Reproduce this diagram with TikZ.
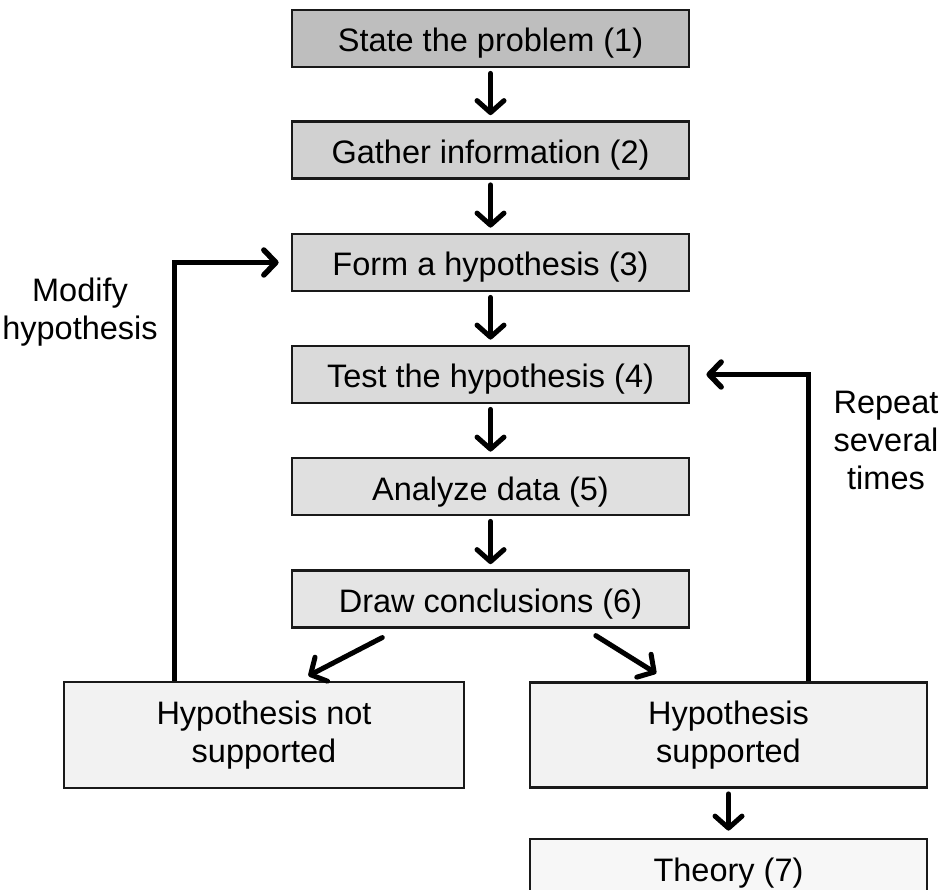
\documentclass[tikz,border=0pt]{standalone}
\usepackage{fontspec}
\setmainfont{Liberation Sans}
\usetikzlibrary{arrows.meta,calc}
\definecolor{fillA}{RGB}{190,190,190}
\definecolor{fillB}{RGB}{209,209,209}
\definecolor{fillC}{RGB}{214,214,214}
\definecolor{fillD}{RGB}{218,218,218}
\definecolor{fillE}{RGB}{224,224,224}
\definecolor{fillF}{RGB}{229,229,229}
\definecolor{fillG}{RGB}{242,242,242}
\definecolor{fillH}{RGB}{247,247,247}
\definecolor{edge}{RGB}{25,25,25}
\begin{document}
\begin{tikzpicture}[x=1pt,y=-1pt,
  box/.style={draw=edge, line width=2.8pt, minimum width=397pt, minimum height=57pt,
    inner sep=0pt, align=center, font=\fontsize{32.5}{38}\selectfont},
  oneline/.style={text height=29pt, text depth=2pt},
  lbl/.style={inner sep=0pt, align=center, font=\fontsize{32.5}{38}\selectfont},
  flow/.style={line width=5pt, line cap=round, -{Straight Barb[length=12pt,width=27pt,line cap=round,line join=round]}},
  loopline/.style={line width=5.5pt, line join=miter, -{Straight Barb[length=12pt,width=25pt,line cap=round,line join=round]}}]
\useasboundingbox (0,0) rectangle (940,890);
\node[box, oneline, fill=fillA] (b1) at (490.5,38.5) {State the problem (1)};
\node[box, oneline, fill=fillB] (b2) at (490.5,150) {Gather information (2)};
\node[box, oneline, fill=fillC] (b3) at (490.5,262.5) {Form a hypothesis (3)};
\node[box, oneline, fill=fillD] (b4) at (490.5,374.5) {Test the hypothesis (4)};
\node[box, oneline, fill=fillE] (b5) at (490.5,486.5) {Analyze data (5)};
\node[box, oneline, fill=fillF] (b6) at (490.5,599) {Draw conclusions (6)};
\node[box, fill=fillG, minimum width=400pt, minimum height=106pt] (nsup) at (264,735) {Hypothesis not\\supported};
\node[box, fill=fillG, minimum height=105pt] (sup) at (728.5,735) {Hypothesis\\supported};
\node[box, oneline, fill=fillH, minimum height=58pt] (th) at (728.5,868) {Theory (7)};
\node[lbl] (modify) at (80,312.5) {Modify\\hypothesis};
\node[lbl] (repeat) at (886,440) {Repeat\\several\\times};
\draw[flow, shorten <=5pt, shorten >=5pt] (b1) -- (b2);
\draw[flow, shorten <=5pt, shorten >=5pt] (b2) -- (b3);
\draw[flow, shorten <=5pt, shorten >=5pt] (b3) -- (b4);
\draw[flow, shorten <=5pt, shorten >=5pt] (b4) -- (b5);
\draw[flow, shorten <=5pt, shorten >=5pt] (b5) -- (b6);
\draw[flow, shorten <=5pt, shorten >=7pt] (sup) -- (th);
\draw[flow, shorten <=18.8pt, shorten >=10.3pt]
  ($(b6.south west)!0.271!(b6.south east)$) -- ($(nsup.north west)!0.5875!(nsup.north east)$);
\draw[flow, shorten <=12.7pt, shorten >=14.5pt]
  ($(b6.south west)!0.7365!(b6.south east)$) -- ($(sup.north west)!0.35!(sup.north east)$);
\draw[loopline, shorten >=12pt] ($(nsup.north west)!0.2775!(nsup.north east)$) |- (b3.west);
\draw[loopline, shorten >=16pt] ($(sup.north west)!0.70!(sup.north east)$) |- (b4.east);
\end{tikzpicture}
\end{document}
